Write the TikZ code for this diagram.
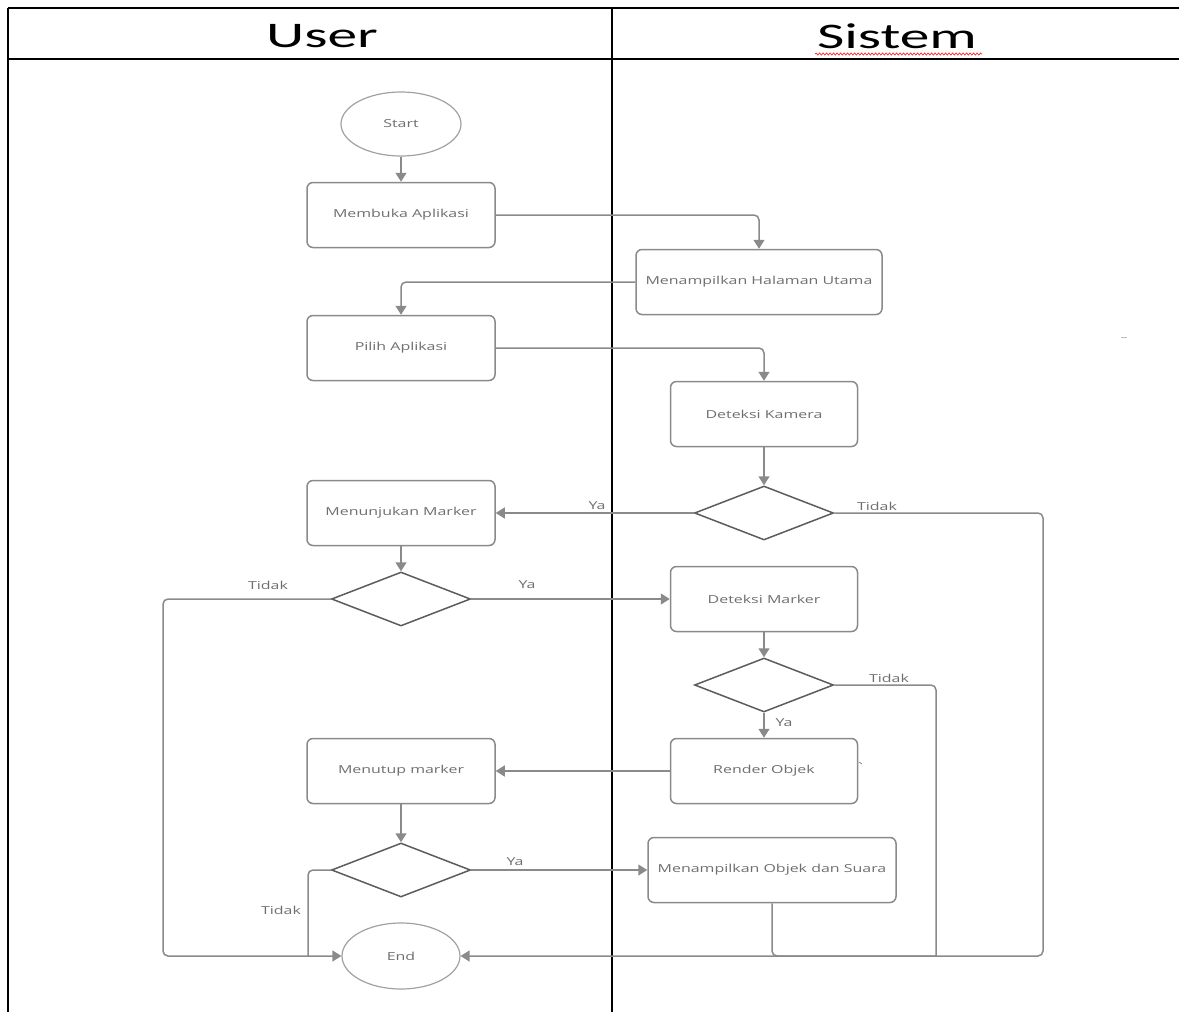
\documentclass[tikz,border=0pt]{standalone}
\usepackage{fontspec}
\setmainfont{Carlito}
\newfontfamily\headfont[FakeStretch=1.65]{Carlito}
\newfontfamily\boxfont[FakeStretch=1.45]{Open Sans}
\usetikzlibrary{shapes.geometric,arrows.meta,decorations.pathmorphing}
\definecolor{linegray}{HTML}{8A8A8A}
\definecolor{textgray}{HTML}{6E6E6E}
\definecolor{diagray}{HTML}{5C5C5C}

\begin{document}
\begin{tikzpicture}[x=1pt,y=-1pt,
  act/.style={draw=linegray, line width=1.5pt, rounded corners=6pt, minimum height=65pt,
    font=\boxfont\fontsize{11}{13}\selectfont, text=textgray},
  term/.style={draw=linegray!80, line width=1.2pt, ellipse, minimum width=120pt, minimum height=64pt,
    font=\boxfont\fontsize{11}{13}\selectfont, text=textgray},
  choice/.style={draw=diagray, line width=1.5pt, diamond, inner sep=0pt, minimum width=139pt, minimum height=54pt},
  conn/.style={draw=linegray, line width=1.5pt, rounded corners=5pt},
  tip/.style={-{Triangle[length=9pt,width=11pt]}},
  lbl/.style={text=textgray, font=\boxfont\fontsize{11}{13}\selectfont, inner sep=0pt}
]
\useasboundingbox (0,0) rectangle (1179,1012);

% Swimlane table
\draw [line width=1.8pt] (8,8) -- (1179,8);
\draw [line width=1.5pt] (8,59) -- (1179,59);
\draw [line width=1.8pt] (8,8) -- (8,1012);
\draw [line width=1.8pt] (612,8) -- (612,1012);

% Lane titles
\node (user) at (322,36) {\headfont\fontsize{36}{40}\selectfont User};
\node (sistem) at (897,36) {\headfont\fontsize{36}{40}\selectfont Sistem};
\draw [red!85, line width=0.7pt, decorate, decoration={snake, amplitude=1.1pt, segment length=3.5pt}] (815,54) -- (982,54);

% Activities
\node [term] (start) at (401,124) {Start};
\node [act, minimum width=188pt] (buka) at (401,215) {Membuka Aplikasi};
\node [act, minimum width=246pt] (utama) at (759,282) {Menampilkan Halaman Utama};
\node [act, minimum width=188pt] (pilih) at (401,348) {Pilih Aplikasi};
\node [act, minimum width=187pt] (kamera) at (764,414) {Deteksi Kamera};
\node [choice] (cekKamera) at (764,513) {};
\node [act, minimum width=188pt] (tunjuk) at (401,513) {Menunjukan Marker};
\node [choice] (cekTunjuk) at (401,599) {};
\node [act, minimum width=187pt] (marker) at (764,599) {Deteksi Marker};
\node [choice] (cekMarker) at (764,685) {};
\node [act, minimum width=187pt] (render) at (764,771) {Render Objek};
\node [act, minimum width=188pt] (tutup) at (401,771) {Menutup marker};
\node [choice] (cekTutup) at (401,870) {};
\node [act, minimum width=248pt] (tampil) at (772,870) {Menampilkan Objek dan Suara};
\node [term, minimum width=118pt, minimum height=66pt] (end) at (401,956) {End};

% Corner points of the long returns
\coordinate (kananLuar) at (1043,956);
\coordinate (kananDalam) at (936,956);
\coordinate (kiriLuar) at (163,956);
\coordinate (kiriDalam) at (308,956);

% Main flow
\draw [conn, tip] (start) -- (buka);
\draw [conn, tip] (buka.east) -| (utama.north);
\draw [conn, tip] (utama.west) -| (pilih.north);
\draw [conn, tip] (pilih.east) -| (kamera.north);
\draw [conn, tip] (kamera) -- (cekKamera);
\draw [conn, tip] (cekKamera.west) -- (tunjuk.east);
\draw [conn, tip] (tunjuk) -- (cekTunjuk);
\draw [conn, tip] (cekTunjuk.east) -- (marker.west);
\draw [conn, tip] (marker) -- (cekMarker);
\draw [conn, tip] (cekMarker) -- (render);
\draw [conn, tip] (render.west) -- (tutup.east);
\draw [conn, tip] (tutup) -- (cekTutup);
\draw [conn, tip] (cekTutup.east) -- (tampil.west);

% Returns to End
\draw [conn, tip] (cekKamera.east) -| (kananLuar) -- (end.east);
\draw [conn] (cekMarker.east) -| (kananDalam);
\draw [conn] (tampil.south) |- (kananDalam);
\draw [conn, tip] (cekTunjuk.west) -| (kiriLuar) -- (end.west);
\draw [conn] (cekTutup.west) -| (kiriDalam);

% Labels
\node [lbl] (yaKamera) at (597,506) {Ya};
\node [lbl] (tidakKamera) at (877,506) {Tidak};
\node [lbl] (tidakTunjuk) at (268,585) {Tidak};
\node [lbl] (yaTunjuk) at (527,585) {Ya};
\node [lbl] (tidakMarker) at (889,678) {Tidak};
\node [lbl] (yaMarker) at (784,723) {Ya};
\node [lbl] (yaTutup) at (515,862) {Ya};
\node [lbl] (tidakTutup) at (281,910) {Tidak};

% Stray marks
\draw [linegray!60, line width=1pt] (1121,337) -- (1127,337);
\draw [linegray, line width=0.8pt] (859,762) -- (862,764);
\end{tikzpicture}
\end{document}
